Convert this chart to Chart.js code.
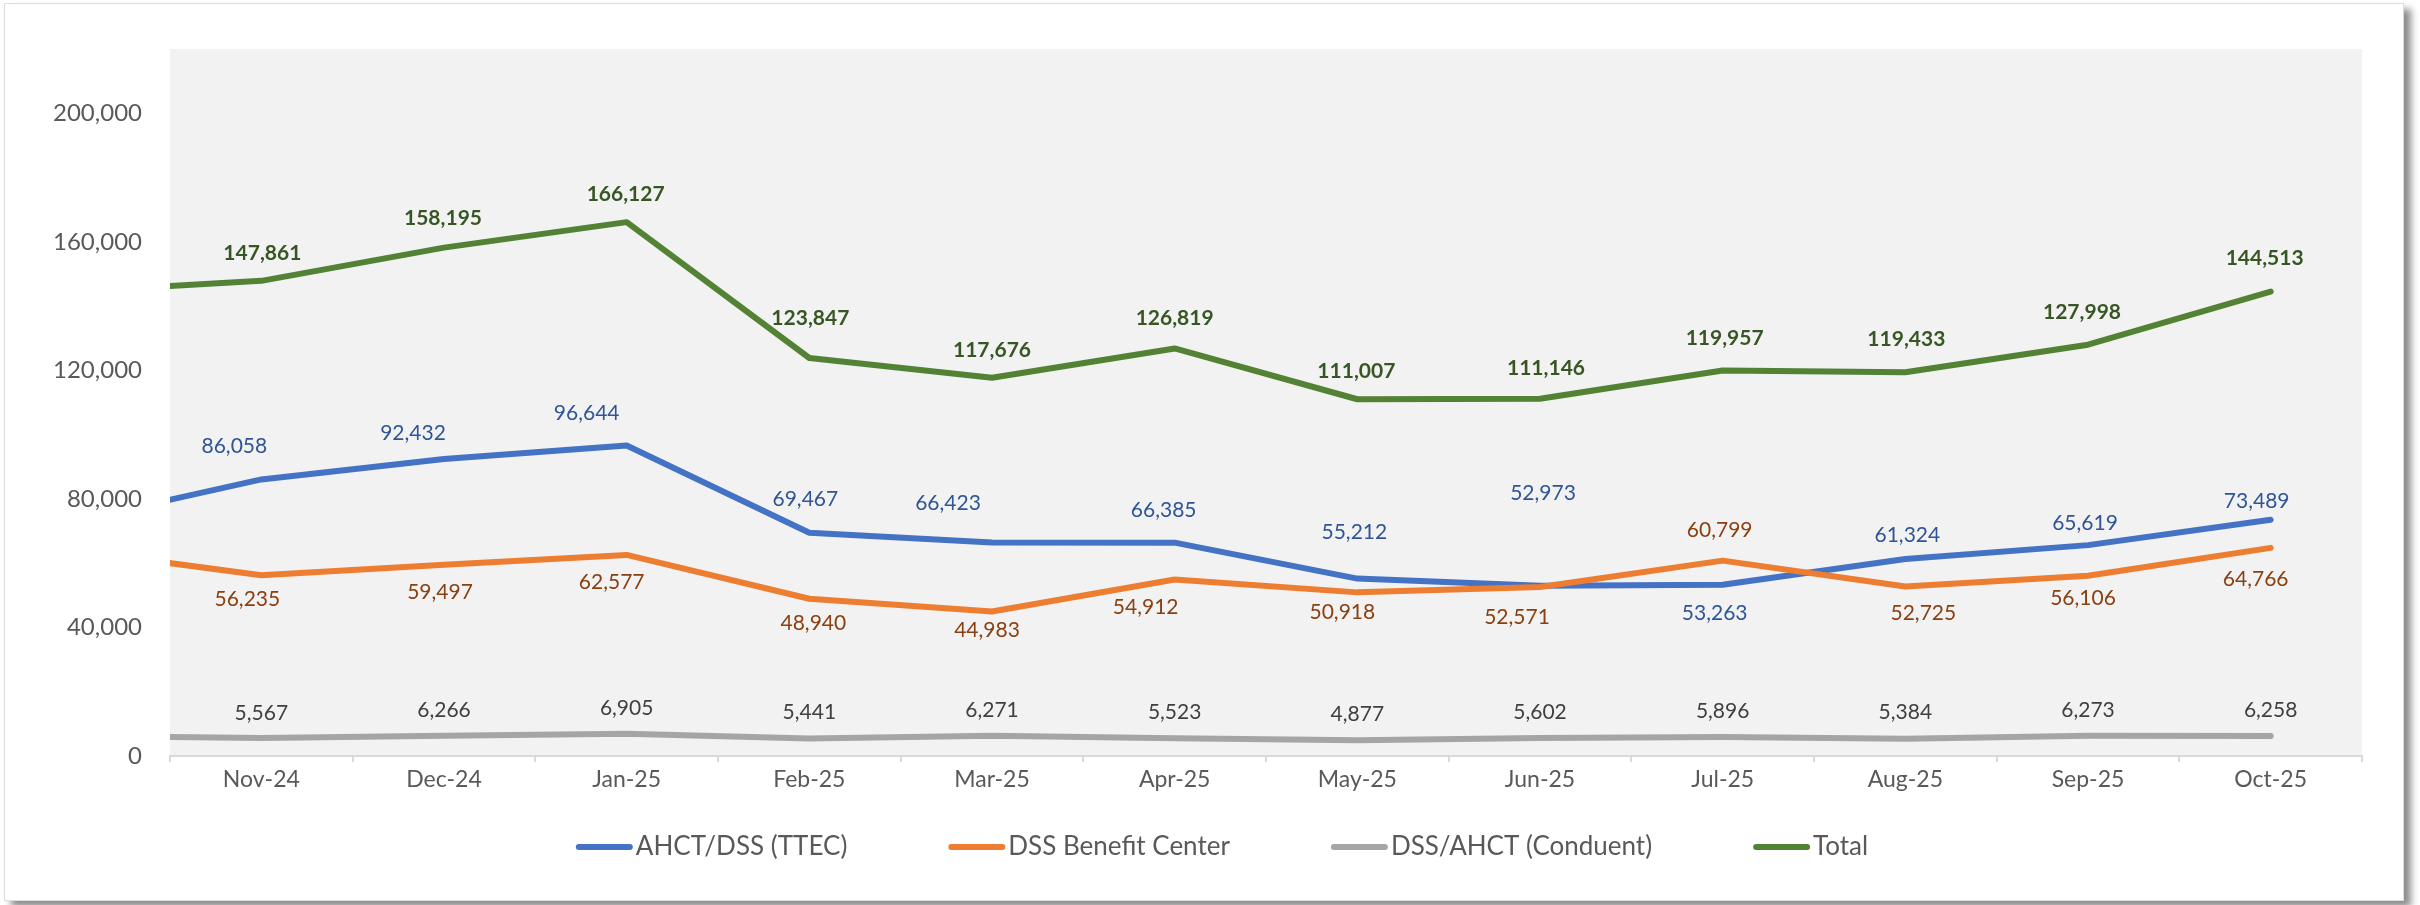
<!DOCTYPE html>
<html>
<head>
<meta charset="utf-8">
<script src="https://cdn.jsdelivr.net/npm/chart.js@4.4.1/dist/chart.umd.min.js"></script>
<style>
  html, body { margin: 0; padding: 0; background: #ffffff; }
  #card {
    position: absolute; left: 4px; top: 3px; width: 2398px; height: 896px;
    background: #ffffff; border: 1px solid #dcdcdc;
    box-shadow: 7px 6px 7px rgba(0, 0, 0, 0.45);
  }
  #chart { position: absolute; left: 0; top: 0; }
</style>
</head>
<body>
<div id="card"></div>
<canvas id="chart" width="2420" height="905"></canvas>
<script>
// first month (Oct-24) sits just off the left edge, only its line segment shows
const months = ['Oct-24', 'Nov-24', 'Dec-24', 'Jan-25', 'Feb-25', 'Mar-25', 'Apr-25',
  'May-25', 'Jun-25', 'Jul-25', 'Aug-25', 'Sep-25', 'Oct-25'];

const ttec = [73400, 86058, 92432, 96644, 69467, 66423, 66385, 55212, 52973, 53263, 61324, 65619, 73489];
const benefitCenter = [63800, 56235, 59497, 62577, 48940, 44983, 54912, 50918, 52571, 60799, 52725, 56106, 64766];
const conduent = [6250, 5567, 6266, 6905, 5441, 6271, 5523, 4877, 5602, 5896, 5384, 6273, 6258];
const totals = [144700, 147861, 158195, 166127, 123847, 117676, 126819, 111007, 111146, 119957, 119433, 127998, 144513];

const yTicks = [0, 40000, 80000, 120000, 160000, 200000];

// where each value label sits relative to its point (Nov-24 .. Oct-25)
const ttecNudge = [[-27, -33], [-31, -26], [-40, -32], [-4, -34], [-44, -39], [-11, -32],
  [-3, -46], [3, -93], [-8, 28], [2, -24], [-3, -22], [-14, -19]];
const benefitNudge = [[-14, 24], [-4, 27], [-15, 27], [4, 25], [-5, 19], [-29, 28],
  [-15, 20], [-23, 30], [-3, -30], [18, 27], [-5, 23], [-15, 31]];
const conduentNudge = [[0, -25], [0, -26], [0, -26], [0, -26], [0, -26], [0, -26],
  [0, -26], [0, -26], [0, -26], [0, -26], [0, -26], [0, -26]];
const totalNudge = [[1, -28], [-1, -29], [-1, -28], [1, -40], [0, -28], [0, -30],
  [-1, -28], [6, -31], [2, -32], [1, -33], [-6, -32], [-6, -33]];

const FONT = 'Lato, "Open Sans", sans-serif';
const fmt = v => v.toLocaleString('en-US');

const plotBackground = {
  id: 'plotBackground',
  beforeDraw(chart) {
    const { ctx, chartArea: a } = chart;
    ctx.save();
    ctx.fillStyle = '#f2f2f2';
    ctx.fillRect(a.left, a.top, a.right - a.left, a.bottom - a.top);
    ctx.restore();
  }
};

const valueLabels = {
  id: 'valueLabels',
  afterDatasetsDraw(chart) {
    const ctx = chart.ctx;
    chart.data.datasets.forEach((ds, di) => {
      const meta = chart.getDatasetMeta(di);
      ctx.save();
      ctx.font = (ds.labelBold ? 'bold ' : '') + '21px ' + FONT;
      ctx.fillStyle = ds.labelColor;
      ctx.textAlign = 'center';
      ctx.textBaseline = 'middle';
      for (let i = 1; i < ds.data.length; i++) {
        const pt = meta.data[i];
        const [dx, dy] = ds.nudge[i - 1];
        ctx.fillText(fmt(ds.data[i]), pt.x + dx, pt.y + dy);
      }
      ctx.restore();
    });
  }
};

const bottomLegend = {
  id: 'bottomLegend',
  afterDraw(chart) {
    const ctx = chart.ctx;
    const lineLen = 57, gap = 3, spacing = 101, y = 847;
    ctx.save();
    ctx.font = '26px ' + FONT;
    const items = chart.data.datasets.map(ds => ({
      label: ds.label, color: ds.borderColor, w: ctx.measureText(ds.label).width
    }));
    const total = items.reduce((s, it) => s + lineLen + gap + it.w, 0) + spacing * (items.length - 1);
    let x = 1222 - total / 2;
    ctx.textBaseline = 'middle';
    ctx.lineCap = 'round';
    items.forEach(it => {
      ctx.strokeStyle = it.color;
      ctx.lineWidth = 6;
      ctx.beginPath();
      ctx.moveTo(x + 3, y);
      ctx.lineTo(x + lineLen - 3, y);
      ctx.stroke();
      ctx.fillStyle = '#595959';
      ctx.fillText(it.label, x + lineLen + gap, y);
      x += lineLen + gap + it.w + spacing;
    });
    ctx.restore();
  }
};

function series(label, data, color, order, labelColor, nudge, bold) {
  return {
    label, data, order, nudge, labelColor, labelBold: bold,
    borderColor: color, backgroundColor: color,
    borderWidth: 6, pointRadius: 0, pointHoverRadius: 0, tension: 0,
    borderCapStyle: 'round', borderJoinStyle: 'round', fill: false
  };
}

new Chart(document.getElementById('chart'), {
  type: 'line',
  data: {
    labels: months,
    datasets: [
      series('AHCT/DSS (TTEC)', ttec, '#4472c4', 4, '#2f5597', ttecNudge, false),
      series('DSS Benefit Center', benefitCenter, '#ed7d31', 3, '#8a4010', benefitNudge, false),
      series('DSS/AHCT (Conduent)', conduent, '#a5a5a5', 2, '#404040', conduentNudge, false),
      series('Total', totals, '#548235', 1, '#375623', totalNudge, true)
    ]
  },
  options: {
    responsive: false,
    animation: false,
    devicePixelRatio: 1,
    layout: { padding: { left: 0, top: 49, right: 58, bottom: 0 } },
    plugins: { legend: { display: false }, tooltip: { enabled: false } },
    scales: {
      x: {
        type: 'category',
        min: 'Nov-24',
        offset: true,
        grid: { drawOnChartArea: false, drawTicks: true, tickLength: 6, color: '#d9d9d9', lineWidth: 2, offset: true },
        border: { display: true, color: '#d9d9d9', width: 2 },
        ticks: { color: '#595959', font: { family: FONT, size: 23 }, padding: 4, maxRotation: 0, autoSkip: false },
        afterFit(scale) { scale.height = 149; }
      },
      y: {
        min: 0,
        max: 220000,
        grid: { display: false },
        border: { display: false },
        afterBuildTicks(scale) { scale.ticks = yTicks.map(v => ({ value: v })); },
        ticks: { color: '#595959', font: { family: FONT, size: 24 }, padding: 20, callback: v => fmt(v) },
        afterFit(scale) { scale.width = 170; }
      }
    }
  },
  plugins: [plotBackground, valueLabels, bottomLegend]
});
</script>
</body>
</html>
